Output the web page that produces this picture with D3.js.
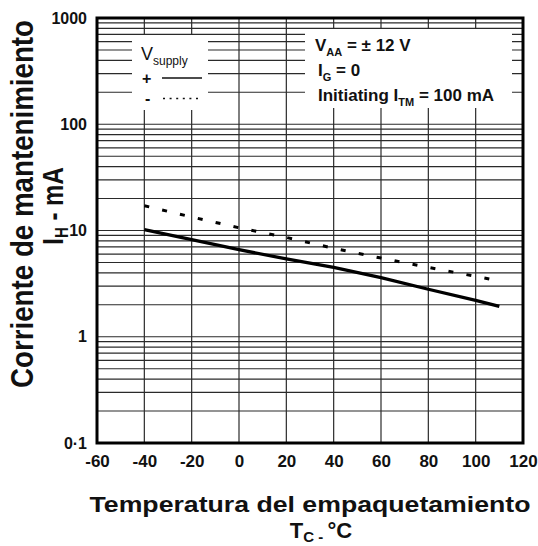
<!DOCTYPE html>
<html>
<head>
<meta charset="utf-8">
<script src="https://cdn.jsdelivr.net/npm/d3@7"></script>
<style>
  body { margin: 0; background: #fff; }
  svg text { font-family: 'Liberation Sans', Arial, sans-serif; fill: #111; }
</style>
</head>
<body>
<div id="chart"></div>
<script>
"use strict";
// axis values
const tempTicks = [-60, -40, -20, 0, 20, 40, 60, 80, 100, 120];
const currentTicks = [0.1, 1, 10, 100, 1000];
const currentLabels = ['0·1', '1', '10', '100', '1000'];
// V supply + (solid)
const tempPos = [-40, -20, 0, 20, 40, 60, 80, 100, 110];
const currentPos = [10.2, 8.2, 6.6, 5.4, 4.5, 3.6, 2.8, 2.2, 1.93];
// V supply - (dotted)
const tempNeg = [-40, -20, 0, 20, 40, 60, 80, 100, 107];
const currentNeg = [17.1, 13.4, 10.6, 8.6, 6.8, 5.5, 4.5, 3.7, 3.45];

const width = 538, height = 546;
const plotL = 97, plotR = 523, plotT = 18, plotB = 443;

let svg = d3.select('#chart')
    .append('svg')
    .attr('width', width)
    .attr('height', height);

const x = d3.scaleLinear().domain([-60, 120]).range([plotL, plotR]);
const y = d3.scaleLog().domain([0.1, 1000]).range([plotB, plotT]);

// grid
let grid = svg.append('g')
    .attr('stroke', '#2a2a2a')
    .attr('stroke-width', 1.2);
grid.selectAll('.hl')
    .data(y.ticks())
    .enter()
    .append('line')
    .attr('x1', plotL).attr('x2', plotR)
    .attr('y1', d => y(d)).attr('y2', d => y(d));
grid.selectAll('.vl')
    .data(tempTicks.slice(1, -1))
    .enter()
    .append('line')
    .attr('x1', d => x(d)).attr('x2', d => x(d))
    .attr('y1', plotT).attr('y2', plotB);

// white boxes for legend / conditions
svg.append('rect')
    .attr('x', 132).attr('y', 35).attr('width', 76).attr('height', 75)
    .attr('fill', '#fff');
svg.append('rect')
    .attr('x', 305).attr('y', 29).attr('width', 207).attr('height', 79)
    .attr('fill', '#fff');

// curves
const line = d3.line()
    .x(d => x(d[0]))
    .y(d => y(d[1]));
svg.append('path')
    .datum(d3.zip(tempPos, currentPos))
    .attr('d', line)
    .attr('fill', 'none')
    .attr('stroke', '#000')
    .attr('stroke-width', 3.2);
svg.append('path')
    .datum(d3.zip(tempNeg, currentNeg))
    .attr('d', line)
    .attr('fill', 'none')
    .attr('stroke', '#000')
    .attr('stroke-width', 3)
    .attr('stroke-dasharray', '5 13.3');

// border
svg.append('rect')
    .attr('x', plotL).attr('y', plotT)
    .attr('width', plotR - plotL).attr('height', plotB - plotT)
    .attr('fill', 'none')
    .attr('stroke', '#000')
    .attr('stroke-width', 3);

// axes
let xAxis = svg.append('g')
    .attr('transform', 'translate(0,' + plotB + ')')
    .call(d3.axisBottom(x).tickValues(tempTicks).tickSize(0).tickPadding(12)
        .tickFormat(d => String(d)));
xAxis.select('.domain').remove();
xAxis.selectAll('text')
    .style('font-size', '17px')
    .style('font-weight', 'bold');

let yAxis = svg.append('g')
    .attr('transform', 'translate(' + plotL + ',0)')
    .call(d3.axisLeft(y).tickValues(currentTicks).tickSize(0).tickPadding(10)
        .tickFormat((d, i) => currentLabels[i]));
yAxis.select('.domain').remove();
yAxis.selectAll('text')
    .style('font-size', '16px')
    .style('font-weight', 'bold');

// legend
let legend = svg.append('g');
let vs = legend.append('text').attr('x', 141).attr('y', 60).style('font-size', '18px');
vs.append('tspan').text('V');
vs.append('tspan').attr('dy', 5).style('font-size', '12px').text('supply');
legend.append('text').attr('x', 142).attr('y', 84)
    .style('font-size', '16px').style('font-weight', 'bold').text('+');
legend.append('text').attr('x', 145).attr('y', 104)
    .style('font-size', '16px').style('font-weight', 'bold').text('-');
legend.append('line')
    .attr('x1', 162).attr('x2', 202).attr('y1', 78).attr('y2', 78)
    .attr('stroke', '#111').attr('stroke-width', 1.3);
legend.append('line')
    .attr('x1', 163).attr('x2', 201).attr('y1', 98.5).attr('y2', 98.5)
    .attr('stroke', '#111').attr('stroke-width', 1.6)
    .attr('stroke-dasharray', '2 4.6');

// test conditions
const condLines = [
    ['V', 'AA', ' = ± 12 V'],
    ['I', 'G', ' = 0'],
    ['Initiating I', 'TM', ' = 100 mA']
];
condLines.forEach(function (parts, i) {
    let t = svg.append('text')
        .attr('x', i == 0 ? 315 : 318)
        .attr('y', 51 + i * 25)
        .style('font-size', '17px')
        .style('font-weight', 'bold');
    t.append('tspan').text(parts[0]);
    t.append('tspan').attr('dy', 5).style('font-size', '11px').text(parts[1]);
    t.append('tspan').attr('dy', -5).text(parts[2]);
});

// axis titles
svg.append('text')
    .attr('x', 310).attr('y', 512)
    .attr('text-anchor', 'middle')
    .attr('textLength', 441)
    .attr('lengthAdjust', 'spacingAndGlyphs')
    .style('font-size', '22px')
    .style('font-weight', 'bold')
    .text('Temperatura del empaquetamiento');
let tc = svg.append('text')
    .attr('x', 321).attr('y', 538)
    .attr('text-anchor', 'middle')
    .style('font-size', '22px')
    .style('font-weight', 'bold');
tc.append('tspan').text('T');
tc.append('tspan').attr('dy', 4).style('font-size', '15px').text('C - ');
tc.append('tspan').attr('dy', -4).text('°C');

svg.append('text')
    .attr('transform', 'translate(33,204) scale(1.25,1) rotate(-90)')
    .attr('text-anchor', 'middle')
    .attr('textLength', 368)
    .attr('lengthAdjust', 'spacingAndGlyphs')
    .style('font-size', '25px')
    .style('font-weight', 'bold')
    .text('Corriente de mantenimiento');
let ih = svg.append('text')
    .attr('transform', 'translate(63,206) scale(1.25,1) rotate(-90)')
    .attr('text-anchor', 'middle')
    .style('font-size', '24px')
    .style('font-weight', 'bold');
ih.append('tspan').text('I');
ih.append('tspan').attr('dy', 4).style('font-size', '15px').text('H');
ih.append('tspan').attr('dy', -4).text(' - mA');
</script>
</body>
</html>
